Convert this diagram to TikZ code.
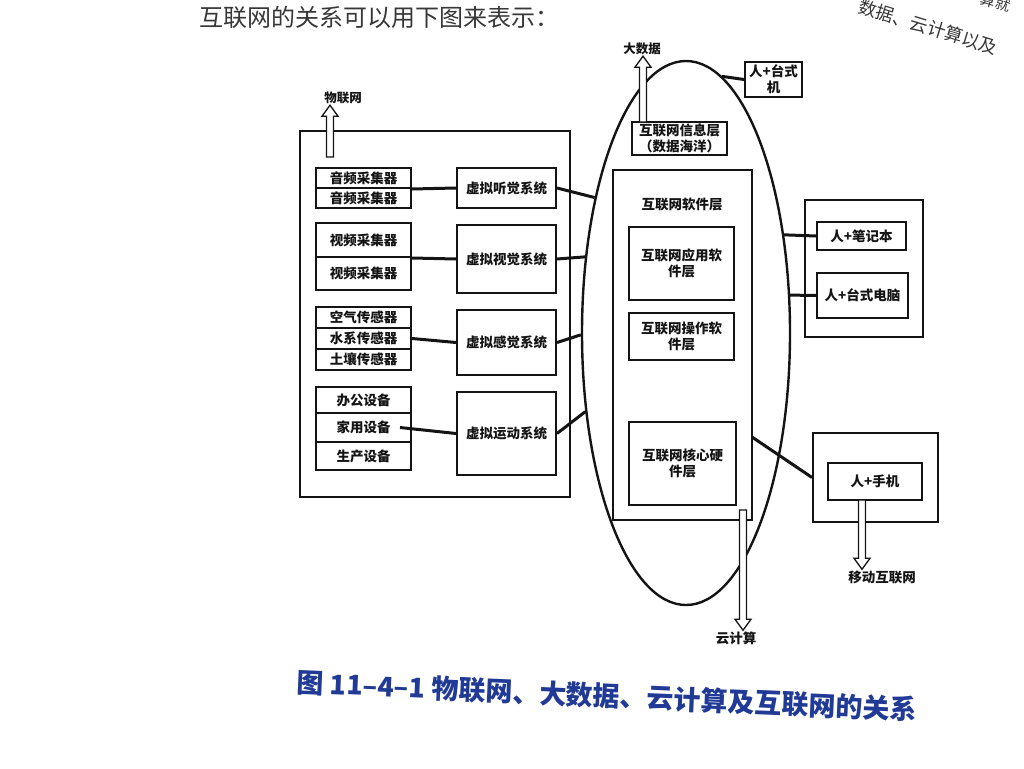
\documentclass[tikz,border=0pt]{standalone}
\usepackage{fontspec}
\setmainfont{Noto Sans CJK SC}
\usetikzlibrary{shapes.geometric,calc}
\definecolor{capblue}{RGB}{32,58,150}
\definecolor{ink}{RGB}{20,20,20}
\newcommand{\mkbox}[6][]{\node[box,#1,minimum width={(#4-#2)*1pt},minimum height={(#5-#3)*1pt}] (#6) at ({(#2+#4)/2},{(#3+#5)/2})}
\newcommand{\hollowarrow}[2]{%
  \draw[harrow] let \p1=(#1), \p2=(#2), \n1={sign(\y2-\y1)} in
    ({\x1-3.5pt},\y1) -- ({\x1-3.5pt},{\y2-\n1*11pt}) -- ({\x1-8pt},{\y2-\n1*11pt})
    -- (\x1,\y2) -- ({\x1+8pt},{\y2-\n1*11pt}) -- ({\x1+3.5pt},{\y2-\n1*11pt})
    -- ({\x1+3.5pt},\y1) -- cycle;}
\begin{document}
\begin{tikzpicture}[x=1pt,y=-1pt,
  box/.style={draw=ink, line width=2pt, inner sep=0pt, align=center, text=ink,
    font=\bfseries\fontsize{13.5}{16}\selectfont},
  link/.style={draw=ink, line width=3pt},
  harrow/.style={draw=ink, line width=1.3pt, fill=white, line join=miter},
  lbl/.style={inner sep=1pt, text=ink, font=\bfseries\fontsize{12.5}{15}\selectfont}]
\useasboundingbox (0,0) rectangle (1024,768);

% page text
\node[anchor=west, text=ink!85, font=\fontsize{24}{26}\selectfont] (top) at (196,17) {互联网的关系可以用下图来表示：};
\node[rotate=-17, text=ink!85, font=\fontsize{18}{20}\selectfont] (topr) at (928,27) {数据、云计算以及};
\node[rotate=-17, text=ink!85, font=\fontsize{15}{17}\selectfont, inner sep=0pt] (topr2) at (996,2) {算就};

% left part: Internet of Things
\mkbox{300}{131}{570}{497}{B} {};
\mkbox{316}{168}{411}{188}{a1} {音频采集器};
\mkbox{316}{188}{411}{208}{a2} {音频采集器};
\mkbox{457}{168}{556}{208}{T} {虚拟听觉系统};
\mkbox{316}{223}{411}{257}{v1} {视频采集器};
\mkbox{316}{257}{411}{290}{v2} {视频采集器};
\mkbox{457}{225}{556}{293}{S} {虚拟视觉系统};
\mkbox{316}{307}{411}{328}{s1} {空气传感器};
\mkbox{316}{328}{411}{349}{s2} {水系传感器};
\mkbox{316}{349}{411}{370}{s3} {土壤传感器};
\mkbox{457}{310}{556}{375}{G} {虚拟感觉系统};
\mkbox{316}{387}{411}{413}{d1} {办公设备};
\mkbox{316}{413}{411}{442}{d2} {家用设备};
\mkbox{316}{442}{411}{470}{d3} {生产设备};
\mkbox{457}{392}{556}{475}{Y} {虚拟运动系统};

\draw[link] (a1.south east) -- (T.west);
\draw[link] (v1.south east) -- (S.west);
\draw[link] (s2.east) -- (G.west);
\draw[link] ([xshift=-12pt]d2.east) -- (Y.west);

\node[lbl] (WL) at (343,98) {物联网};
\coordinate (wl0) at (330,157);
\coordinate (wl1) at (wl0 |- WL.south);
\hollowarrow{wl0}{wl1}

% middle: ellipse (cloud / big data)
\node[draw=ink, line width=2.4pt, ellipse, minimum width=208pt, minimum height=544pt, inner sep=0pt] (E) at (686,333) {};
\mkbox{632}{122}{727}{155}{I} {互联网信息层\\（数据海洋）};
\mkbox{613}{170}{752}{520}{W} {};
\node[lbl, font=\bfseries\fontsize{13.5}{16}\selectfont] (WT) at (682,204) {互联网软件层};
\mkbox{629}{227}{734}{300}{A} {互联网应用软\\件层};
\mkbox{629}{313}{734}{360}{O} {互联网操作软\\件层};
\mkbox{629}{422}{736}{505}{H} {互联网核心硬\\件层};

\draw[link] (T.east) -- (E.124);
\draw[link] (S.east) -- (E.143);
\draw[link] (G.east) -- (E.181);
\draw[link] (Y.east) -- (E.218);

\node[lbl] (DS) at (642,49) {大数据};
\coordinate (ds0) at (643,122);
\coordinate (ds1) at (ds0 |- DS.south);
\hollowarrow{ds0}{ds1}

\node[lbl, font=\bfseries\fontsize{13.5}{16}\selectfont] (YJ) at (736,638) {云计算};
\coordinate (yj0) at (743,510);
\coordinate (yj1) at (yj0 |- YJ.north);
\hollowarrow{yj0}{yj1}

% right part
\mkbox{745}{62}{802}{97}{D1} {人+台式\\机};
\mkbox{805}{200}{923}{337}{L} {};
\mkbox{817}{222}{906}{250}{L1} {人+笔记本};
\mkbox{817}{273}{908}{318}{L2} {人+台式电脑};
\mkbox{813}{433}{938}{522}{P} {};
\mkbox{828}{463}{922}{500}{P1} {人+手机};

\draw[link] (E.82) -- (D1.west);
\draw[link] (E.45) -- (L1.west);
\draw[link] (E.20) -- (L2.west);
\coordinate (w1) at (752,437);
\draw[link] (w1) -- (P.west);

\node[lbl, font=\bfseries\fontsize{13.5}{16}\selectfont] (MI) at (882,577) {移动互联网};
\coordinate (p0) at (862,500);
\coordinate (p1) at (p0 |- MI.north);
\hollowarrow{p0}{p1}

% caption
\node[rotate=-2.5, text=capblue, font=\bfseries\fontsize{27}{30}\selectfont] (cap) at (607,696) {图 11–4–1 物联网、大数据、云计算及互联网的关系};
\end{tikzpicture}
\end{document}
